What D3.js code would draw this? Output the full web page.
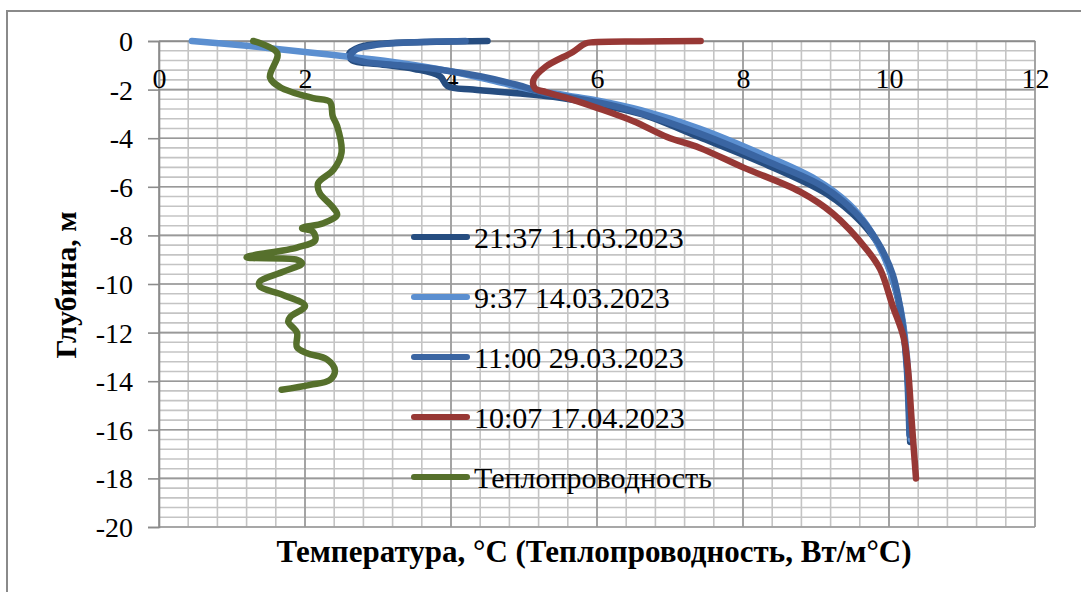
<!DOCTYPE html>
<html>
<head>
<meta charset="utf-8">
<title>Температура по глубине</title>
<script src="https://cdn.jsdelivr.net/npm/d3@7"></script>
<style>
  body { margin: 0; background: #fff; }
  text { font-family: "Liberation Serif", "Times New Roman", serif; fill: #000; }
</style>
</head>
<body>
<svg id="chart" width="1081" height="592"></svg>
<script>
// ---- данные ----
var seriesNames = ["21:37 11.03.2023", "9:37 14.03.2023", "11:00 29.03.2023", "10:07 17.04.2023", "Теплопроводность"];
var seriesColors = ["#264d80", "#5b8fd0", "#3a65a2", "#973835", "#56702c"];

var temp1  = [4.5, 3.8, 3.1, 2.75, 2.6, 2.65, 3.0, 3.5, 3.85, 3.95, 4.3, 4.9, 5.4, 6.0, 6.6, 7.4, 8.33, 9.15, 9.6, 9.88, 10.05, 10.18, 10.25, 10.28, 10.29];
var depth1 = [0, -0.03, -0.1, -0.25, -0.55, -0.8, -0.95, -1.15, -1.45, -1.85, -2.0, -2.15, -2.3, -2.6, -3.0, -3.95, -5.1, -6.3, -7.4, -8.5, -9.8, -11.5, -13.5, -15.5, -16.5];

var temp2  = [0.45, 1.2, 2.0, 2.6, 3.3, 4.0, 4.6, 5.1, 5.6, 6.0, 6.6, 7.4, 8.33, 9.0, 9.45, 9.7, 9.95, 10.15, 10.24, 10.29, 10.3];
var depth2 = [0, -0.2, -0.45, -0.65, -0.9, -1.25, -1.65, -2.0, -2.25, -2.45, -2.85, -3.6, -4.75, -5.7, -6.7, -7.6, -9.0, -10.9, -12.8, -15.6, -16.4];

var temp3  = [4.2, 3.5, 3.0, 2.7, 2.62, 2.8, 3.3, 3.9, 4.4, 4.9, 5.3, 5.8, 6.4, 7.4, 8.33, 9.1, 9.55, 9.85, 10.05, 10.17, 10.24, 10.27, 10.28];
var depth3 = [0, -0.05, -0.15, -0.35, -0.65, -0.85, -1.0, -1.2, -1.45, -1.8, -2.15, -2.4, -2.8, -3.8, -4.95, -6.0, -7.1, -8.3, -9.6, -11.3, -13.3, -15.3, -16.2];

var temp4  = [7.42, 6.6, 5.95, 5.84, 5.67, 5.3, 5.13, 5.15, 5.3, 5.65, 6.0, 6.5, 6.96, 7.41, 8.0, 8.78, 9.23, 9.7, 9.88, 10.05, 10.2, 10.26, 10.31, 10.37];
var depth4 = [0, -0.02, -0.05, -0.1, -0.45, -1.05, -1.6, -1.95, -2.1, -2.4, -2.75, -3.3, -3.95, -4.4, -5.2, -6.2, -7.1, -8.6, -9.4, -10.9, -12.2, -13.5, -15.6, -18.0];

var cond5  = [1.29, 1.62, 1.52, 1.66, 2.11, 2.34, 2.38, 2.44, 2.5, 2.39, 2.18, 2.2, 2.37, 2.44, 2.25, 1.96, 2.11, 2.14, 1.89, 1.2, 1.89, 1.96, 1.7, 1.38, 1.38, 1.7, 2.0, 1.8, 1.77, 1.89, 1.89, 2.03, 2.3, 2.41, 2.34, 2.07, 1.68];
var depth5 = [0, -0.5, -1.5, -1.9, -2.35, -2.5, -3.1, -3.5, -4.6, -5.3, -5.85, -6.25, -6.8, -7.15, -7.5, -7.7, -7.85, -8.2, -8.5, -8.9, -9.0, -9.15, -9.5, -9.9, -10.1, -10.45, -10.9, -11.35, -11.55, -12.0, -12.6, -12.85, -13.1, -13.55, -13.95, -14.15, -14.35];

var xTicks = [0, 2, 4, 6, 8, 10, 12];
var yTicks = [0, -2, -4, -6, -8, -10, -12, -14, -16, -18, -20];

var xs = [temp1, temp2, temp3, temp4, cond5];
var ys = [depth1, depth2, depth3, depth4, depth5];

// ---- разметка ----
var svg = d3.select("#chart");
var pLeft = 159, pRight = 1035, pTop = 41, pBottom = 527;
var serif = "'Liberation Serif', 'Times New Roman', serif";

var x = d3.scaleLinear().domain([0, 12]).range([pLeft, pRight]);
var y = d3.scaleLinear().domain([0, -20]).range([pTop, pBottom]);

// рамка
svg.append("rect")
  .attr("x", 7).attr("y", 11).attr("width", 1200).attr("height", 700)
  .attr("fill", "#fff").attr("stroke", "#8a8a8a").attr("stroke-width", 2);

// сетка: мелкая, потом крупная
var minorX = d3.range(0, 12.001, 0.4), minorY = d3.range(0, -20.001, -0.4);
var grid = svg.append("g");
grid.selectAll(".mx").data(minorX).enter().append("line")
  .attr("x1", function(d) { return x(d); }).attr("x2", function(d) { return x(d); })
  .attr("y1", pTop).attr("y2", pBottom)
  .attr("stroke", "#c4c4c4").attr("stroke-width", 1.6);
grid.selectAll(".my").data(minorY).enter().append("line")
  .attr("y1", function(d) { return y(d); }).attr("y2", function(d) { return y(d); })
  .attr("x1", pLeft).attr("x2", pRight)
  .attr("stroke", "#c4c4c4").attr("stroke-width", 1.6);
grid.selectAll(".Mx").data(xTicks).enter().append("line")
  .attr("x1", function(d) { return x(d); }).attr("x2", function(d) { return x(d); })
  .attr("y1", pTop).attr("y2", pBottom)
  .attr("stroke", "#999").attr("stroke-width", 1.6);
grid.selectAll(".My").data(yTicks).enter().append("line")
  .attr("y1", function(d) { return y(d); }).attr("y2", function(d) { return y(d); })
  .attr("x1", pLeft).attr("x2", pRight)
  .attr("stroke", "#999").attr("stroke-width", 1.6);

// оси (подписи с обычным дефисом, как в исходнике)
var fmt = function(d) { return String(d); };
var yAxis = svg.append("g")
  .attr("transform", "translate(" + pLeft + ",0)")
  .call(d3.axisLeft(y).tickValues(yTicks).tickSize(11).tickPadding(15).tickFormat(fmt));
yAxis.selectAll("line, path").attr("stroke", "#8c8c8c").attr("stroke-width", 1.6);
yAxis.selectAll("text").attr("font-size", 28).attr("font-family", serif).attr("dy", "0.34em");

var xAxis = svg.append("g")
  .attr("transform", "translate(0," + pTop + ")")
  .call(d3.axisBottom(x).tickValues(xTicks).tickSize(0).tickFormat(fmt));
xAxis.select("path").attr("stroke", "#8c8c8c").attr("stroke-width", 1.6);
xAxis.selectAll("text").attr("font-size", 28).attr("font-family", serif)
  .attr("y", 47).attr("dy", 0);

// кривые
var line = d3.line()
  .x(function(d) { return x(d[0]); })
  .y(function(d) { return y(d[1]); })
  .curve(d3.curveCatmullRom.alpha(0.5));

seriesNames.forEach(function(name, i) {
  var pts = xs[i].map(function(v, k) { return [v, ys[i][k]]; });
  svg.append("path")
    .datum(pts)
    .attr("d", line)
    .attr("fill", "none")
    .attr("stroke", seriesColors[i])
    .attr("stroke-width", 6.5)
    .attr("stroke-linecap", "round")
    .attr("stroke-linejoin", "round");
});

// легенда
var legend = svg.append("g");
seriesNames.forEach(function(name, i) {
  var ly = 237 + i * 60;
  legend.append("line")
    .attr("x1", 414).attr("x2", 467).attr("y1", ly).attr("y2", ly)
    .attr("stroke", seriesColors[i]).attr("stroke-width", 6).attr("stroke-linecap", "round");
  legend.append("text")
    .attr("x", 474).attr("y", ly + 11)
    .attr("font-size", 30).attr("font-family", serif)
    .text(name);
});

// подписи осей
svg.append("text")
  .attr("x", 594).attr("y", 562)
  .attr("text-anchor", "middle")
  .attr("font-size", 31).attr("font-weight", "bold").attr("font-family", serif)
  .text("Температура, °C (Теплопроводность, Вт/м°С)");

svg.append("text")
  .attr("transform", "translate(76,285) rotate(-90)")
  .attr("text-anchor", "middle")
  .attr("font-size", 30).attr("font-weight", "bold").attr("font-family", serif)
  .text("Глубина, м");
</script>
</body>
</html>
